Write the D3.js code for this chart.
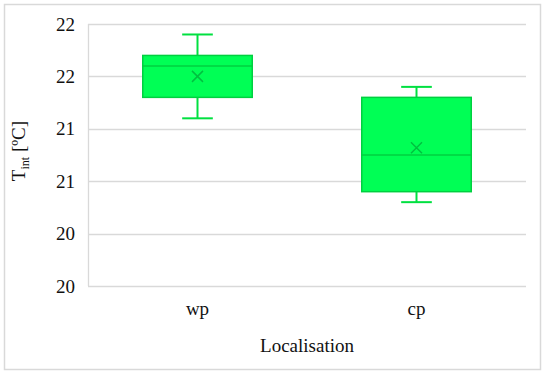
<!DOCTYPE html>
<html>
<head>
<meta charset="utf-8">
<script src="https://cdn.jsdelivr.net/npm/d3@7"></script>
<style>
html,body{margin:0;padding:0;background:#fff;}
svg text{font-family:"Liberation Serif","Times New Roman",Times,"DejaVu Serif",serif !important;}
</style>
</head>
<body>
<svg id="chart" width="550" height="379"></svg>
<script>
const categories = ["wp", "cp"];
const minVals    = [21.1, 20.3];
const q1Vals     = [21.3, 20.4];
const medianVals = [21.6, 20.75];
const q3Vals     = [21.7, 21.3];
const maxVals    = [21.9, 21.4];
const meanVals   = [21.5, 20.82];
const yTickValues = [22.0, 21.5, 21.0, 20.5, 20.0, 19.5];
const yTickLabels = ["22", "22", "21", "21", "20", "20"];

const svg = d3.select("#chart");
const W = 550, H = 379;
const m = {left: 88, right: 24, top: 24, bottom: 93};
const txt = "#111";

// outer frame
svg.append("rect").attr("x", 4.5).attr("y", 4.5).attr("width", 536).attr("height", 365)
  .attr("fill", "#fff").attr("stroke", "#d9d9d9").attr("stroke-width", 1.5);

const x = d3.scaleBand().domain(categories).range([m.left, W - m.right]).paddingInner(0).paddingOuter(0);
const y = d3.scaleLinear().domain([19.5, 22.0]).range([H - m.bottom, m.top]);

// gridlines
svg.append("g").selectAll("line").data(yTickValues).join("line")
  .attr("x1", m.left).attr("x2", W - m.right)
  .attr("y1", d => Math.round(y(d)) + 0.5).attr("y2", d => Math.round(y(d)) + 0.5)
  .attr("stroke", "#d9d9d9").attr("stroke-width", 1.3);

// left axis line
svg.append("line").attr("x1", m.left + 0.5).attr("x2", m.left + 0.5)
  .attr("y1", m.top).attr("y2", H - m.bottom)
  .attr("stroke", "#d9d9d9").attr("stroke-width", 1.3);

// y axis labels
const yAxis = d3.axisLeft(y).tickValues(yTickValues)
  .tickFormat((d, i) => yTickLabels[i]).tickSize(0).tickPadding(13);
const gy = svg.append("g").attr("transform", `translate(${m.left},0)`).call(yAxis);
gy.select(".domain").remove();
gy.attr("font-family", null);
gy.selectAll("text").attr("font-size", 19).attr("fill", txt);

// x axis labels
const xAxis = d3.axisBottom(x).tickSize(0).tickPadding(16);
const gx = svg.append("g").attr("transform", `translate(0,${H - m.bottom})`).call(xAxis);
gx.select(".domain").remove();
gx.attr("font-family", null);
gx.selectAll("text").attr("font-size", 19).attr("fill", txt);

// axis titles
svg.append("text").attr("x", (m.left + W - m.right) / 2).attr("y", 352)
  .attr("text-anchor", "middle").attr("font-size", 19).attr("fill", txt).text("Localisation");

const yt = svg.append("text").attr("transform", "translate(25,151) rotate(-90)")
  .attr("text-anchor", "middle").attr("font-size", 19).attr("fill", txt);
yt.append("tspan").text("T");
yt.append("tspan").attr("font-size", 12).attr("dy", 4).text("int");
yt.append("tspan").attr("dy", -4).text(" [ºC]");

// boxes
const fill = "#00ff55", stroke = "#00d040", whisk = "#00e040";
const bw = x.bandwidth() * 0.5;
const capW = bw * 0.28;
const g = svg.append("g");
categories.forEach((c, i) => {
  const cx = x(c) + x.bandwidth() / 2;
  g.append("line").attr("x1", cx).attr("x2", cx).attr("y1", y(maxVals[i])).attr("y2", y(q3Vals[i]))
    .attr("stroke", whisk).attr("stroke-width", 2);
  g.append("line").attr("x1", cx).attr("x2", cx).attr("y1", y(q1Vals[i])).attr("y2", y(minVals[i]))
    .attr("stroke", whisk).attr("stroke-width", 2);
  g.append("line").attr("x1", cx - capW / 2).attr("x2", cx + capW / 2).attr("y1", y(maxVals[i])).attr("y2", y(maxVals[i]))
    .attr("stroke", whisk).attr("stroke-width", 2);
  g.append("line").attr("x1", cx - capW / 2).attr("x2", cx + capW / 2).attr("y1", y(minVals[i])).attr("y2", y(minVals[i]))
    .attr("stroke", whisk).attr("stroke-width", 2);
  g.append("rect").attr("x", cx - bw / 2).attr("y", y(q3Vals[i]))
    .attr("width", bw).attr("height", y(q1Vals[i]) - y(q3Vals[i]))
    .attr("fill", fill).attr("stroke", stroke).attr("stroke-width", 1.5);
  g.append("line").attr("x1", cx - bw / 2).attr("x2", cx + bw / 2)
    .attr("y1", y(medianVals[i])).attr("y2", y(medianVals[i]))
    .attr("stroke", stroke).attr("stroke-width", 1.5);
  const my = y(meanVals[i]), s = 5.5;
  g.append("path").attr("d", `M${cx - s},${my - s}L${cx + s},${my + s}M${cx - s},${my + s}L${cx + s},${my - s}`)
    .attr("stroke", "#00c040").attr("stroke-width", 1.5).attr("fill", "none");
});
</script>
</body>
</html>
